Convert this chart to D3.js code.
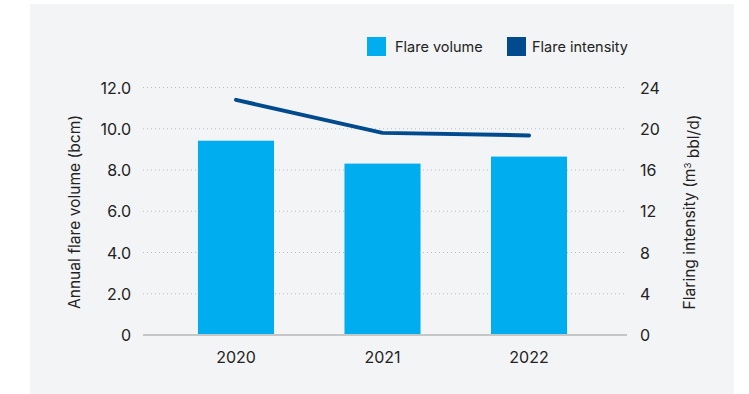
<!DOCTYPE html>
<html>
<head>
<meta charset="utf-8">
<script src="https://cdn.jsdelivr.net/npm/d3@7"></script>
<style>
  html, body { margin: 0; padding: 0; background: #ffffff; }
  svg { display: block; }
  text { font-family: Inter, "Noto Sans", sans-serif; fill: #222; }
</style>
</head>
<body>
<svg id="chart" width="749" height="394"></svg>
<script>
const years = ["2020", "2021", "2022"];
const flareVolume = [9.42, 8.31, 8.65];
const flareIntensity = [22.8, 19.6, 19.35];
const leftTicks = [0, 2, 4, 6, 8, 10, 12];
const rightTicks = [0, 4, 8, 12, 16, 20, 24];
const seriesNames = ["Flare volume", "Flare intensity"];
const seriesColors = ["#00adee", "#004a8d"];

const svg = d3.select("#chart");

svg.append("rect")
  .attr("x", 30).attr("y", 4).attr("width", 704).attr("height", 390)
  .attr("fill", "#f3f4f6");

const x0 = 143, x1 = 627, yTop = 87.5, yBot = 335;

const x = d3.scaleBand().domain(years).range([x0, 622])
  .paddingInner(0.481).paddingOuter(0.375);
const yL = d3.scaleLinear().domain([0, 12]).range([yBot, yTop]);
const yR = d3.scaleLinear().domain([0, 24]).range([yBot, yTop]);

// gridlines
svg.append("g").selectAll("line")
  .data(leftTicks.filter(d => d > 0))
  .join("line")
  .attr("x1", x0).attr("x2", x1)
  .attr("y1", d => yL(d)).attr("y2", d => yL(d))
  .attr("stroke", "#b9bcc0").attr("stroke-width", 1)
  .attr("stroke-dasharray", "1,3");

// bars
svg.append("g").selectAll("rect")
  .data(years)
  .join("rect")
  .attr("x", d => x(d))
  .attr("width", x.bandwidth())
  .attr("y", (d, i) => yL(flareVolume[i]))
  .attr("height", (d, i) => yBot - yL(flareVolume[i]))
  .attr("fill", seriesColors[0]);

// baseline
svg.append("line")
  .attr("x1", x0).attr("x2", x1)
  .attr("y1", yBot).attr("y2", yBot)
  .attr("stroke", "#c4c6c8").attr("stroke-width", 2);

// line
const line = d3.line()
  .x((d, i) => x(years[i]) + x.bandwidth() / 2)
  .y(d => yR(d));
svg.append("path")
  .datum(flareIntensity)
  .attr("d", line)
  .attr("fill", "none")
  .attr("stroke", seriesColors[1])
  .attr("stroke-width", 4)
  .attr("stroke-linecap", "round")
  .attr("stroke-linejoin", "round");

// left axis
const leftAxis = d3.axisLeft(yL).tickValues(leftTicks)
  .tickFormat(d => d === 0 ? "0" : d3.format(".1f")(d))
  .tickSize(0).tickPadding(0);
const gL = svg.append("g").attr("transform", `translate(131,0)`).call(leftAxis);
gL.select(".domain").remove();
gL.selectAll("text").style("font-size", "16px").attr("fill", "#222").attr("dy", "0.35em");

// right axis
const rightAxis = d3.axisRight(yR).tickValues(rightTicks)
  .tickSize(0).tickPadding(0);
const gR = svg.append("g").attr("transform", `translate(640,0)`).call(rightAxis);
gR.select(".domain").remove();
gR.selectAll("text").style("font-size", "16px").attr("fill", "#222").attr("dy", "0.35em");

// bottom axis
const bottomAxis = d3.axisBottom(x).tickSize(0).tickPadding(0);
const gB = svg.append("g").attr("transform", `translate(0,352)`).call(bottomAxis);
gB.select(".domain").remove();
gB.selectAll("text").style("font-size", "16px").attr("fill", "#222").attr("dy", "0.71em");

// axis titles
svg.append("text")
  .attr("transform", "translate(75,212) rotate(-90)")
  .attr("text-anchor", "middle").attr("dy", "0.35em")
  .style("font-size", "15.6px")
  .text("Annual flare volume (bcm)");

const rt = svg.append("text")
  .attr("transform", "translate(690,212) rotate(-90)")
  .attr("text-anchor", "middle").attr("dy", "0.35em")
  .style("font-size", "15.6px");
rt.append("tspan").text("Flaring intensity (m");
rt.append("tspan").text("3").attr("dy", "-0.5em").style("font-size", "9.5px");
rt.append("tspan").text(" bbl/d)").attr("dy", "0.5em");

// legend
const legendX = [367, 507];
const legendTextX = [28, 25];
const lg = svg.append("g").selectAll("g")
  .data(seriesNames)
  .join("g")
  .attr("transform", (d, i) => `translate(${legendX[i]},37)`);
lg.append("rect").attr("width", 19).attr("height", 19)
  .attr("fill", (d, i) => seriesColors[i]);
lg.append("text").attr("x", (d, i) => legendTextX[i]).attr("y", 10).attr("dy", "0.35em")
  .style("font-size", "14.5px")
  .text(d => d);
</script>
</body>
</html>
